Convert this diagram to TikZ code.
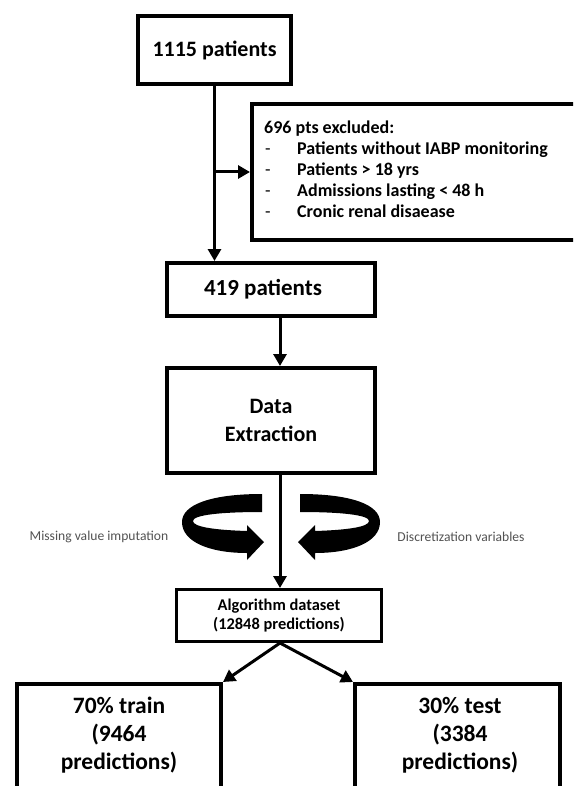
\documentclass[tikz,border=0pt]{standalone}
\usepackage{fontspec}
\setmainfont{Carlito}
\usetikzlibrary{arrows.meta}
\begin{document}
\begin{tikzpicture}[x=1pt,y=-1pt,
  box/.style={draw, line width=4pt, rectangle, inner sep=0pt, align=center,
    font=\bfseries\fontsize{22}{26}\selectfont},
  big/.style={inner sep=0pt, align=center, font=\bfseries\fontsize{23.5}{28}\selectfont},
  arr/.style={line width=3pt, -{Triangle[width=13pt,length=12pt]}},
  note/.style={inner sep=0pt, font=\fontsize{13.6}{15}\selectfont, text=black!68}]
\useasboundingbox (0,0) rectangle (573,786);
\clip (0,0) rectangle (573,786);

% boxes
\node[box, minimum width=153pt, minimum height=68pt] (n1115) at (214.5,50) {1115 patients};
\node[box, minimum width=372pt, minimum height=136pt, anchor=north west] (excl) at (250,102) {};
\node[anchor=base west, inner sep=0pt, font=\fontsize{18}{21}\selectfont] (excltxt) at (264,134)
  {\begin{tabular}[t]{@{}p{33pt}@{}l@{}}
   \multicolumn{2}{@{}l@{}}{\bfseries 696 pts excluded:}\\
   \hspace*{1pt}- & \bfseries Patients without IABP monitoring\\
   \hspace*{1pt}- & \bfseries Patients > 18 yrs\\
   \hspace*{1pt}- & \bfseries Admissions lasting < 48 h\\
   \hspace*{1pt}- & \bfseries Cronic renal disaease
   \end{tabular}};
\node[box, minimum width=208pt, minimum height=53pt,
  font=\bfseries\fontsize{23}{27}\selectfont] (n419) at (271,289.5) {419 patients\hspace*{16pt}};
\node[box, minimum width=208pt, minimum height=105pt,
  font=\bfseries\fontsize{22}{28}\selectfont] (ndata) at (271,420.5) {Data\\Extraction};
\node[box, line width=3pt, minimum width=205pt, minimum height=52pt,
  font=\bfseries\fontsize{16.4}{19}\selectfont] (algo) at (279,615.5) {Algorithm dataset\\(12848 predictions)};
\node[box, minimum width=204pt, minimum height=120pt, anchor=north] (train) at (119,682) {};
\node[box, minimum width=205pt, minimum height=120pt, anchor=north] (test) at (457.5,682) {};
\node[big] (trainlbl) at (119,735.5) {70\% train\\(9464\\predictions)};
\node[big] (testlbl) at (460,735.5) {30\% test\\(3384\\predictions)};

% connectors
\coordinate (ax) at (280,0);
\draw[arr] (n1115.south) -- (n1115.south |- n419.north);
\draw[arr] (n1115.south |- excl.west) -- (excl.west);
\draw[arr] (n419.south -| ax) -- (ndata.north -| ax);
\draw[arr] (ndata.south -| ax) -- (algo.north -| ax);
\draw[arr] (algo.south -| ax) -- (train.north east);
\draw[arr] (algo.south -| ax) -- (test.north west);

% curled arrows
\fill (262,494) .. controls (210,494) and (182,505) .. (182,522)
  .. controls (182,542) and (210,553) .. (247,553)
  -- (247,560) -- (264,542) -- (247,525) -- (247,531)
  .. controls (215,530) and (193,527) .. (193,521)
  .. controls (193,515) and (220,512) .. (262,512) -- cycle;
\begin{scope}[xshift=562pt, xscale=-1]
\fill (262,494) .. controls (210,494) and (182,505) .. (182,522)
  .. controls (182,542) and (210,553) .. (247,553)
  -- (247,560) -- (264,542) -- (247,525) -- (247,531)
  .. controls (215,530) and (193,527) .. (193,521)
  .. controls (193,515) and (220,512) .. (262,512) -- cycle;
\end{scope}
\node[note] (lbl1) at (99,537) {Missing value imputation};
\node[note] (lbl2) at (461,537) {Discretization variables};
\end{tikzpicture}
\end{document}
